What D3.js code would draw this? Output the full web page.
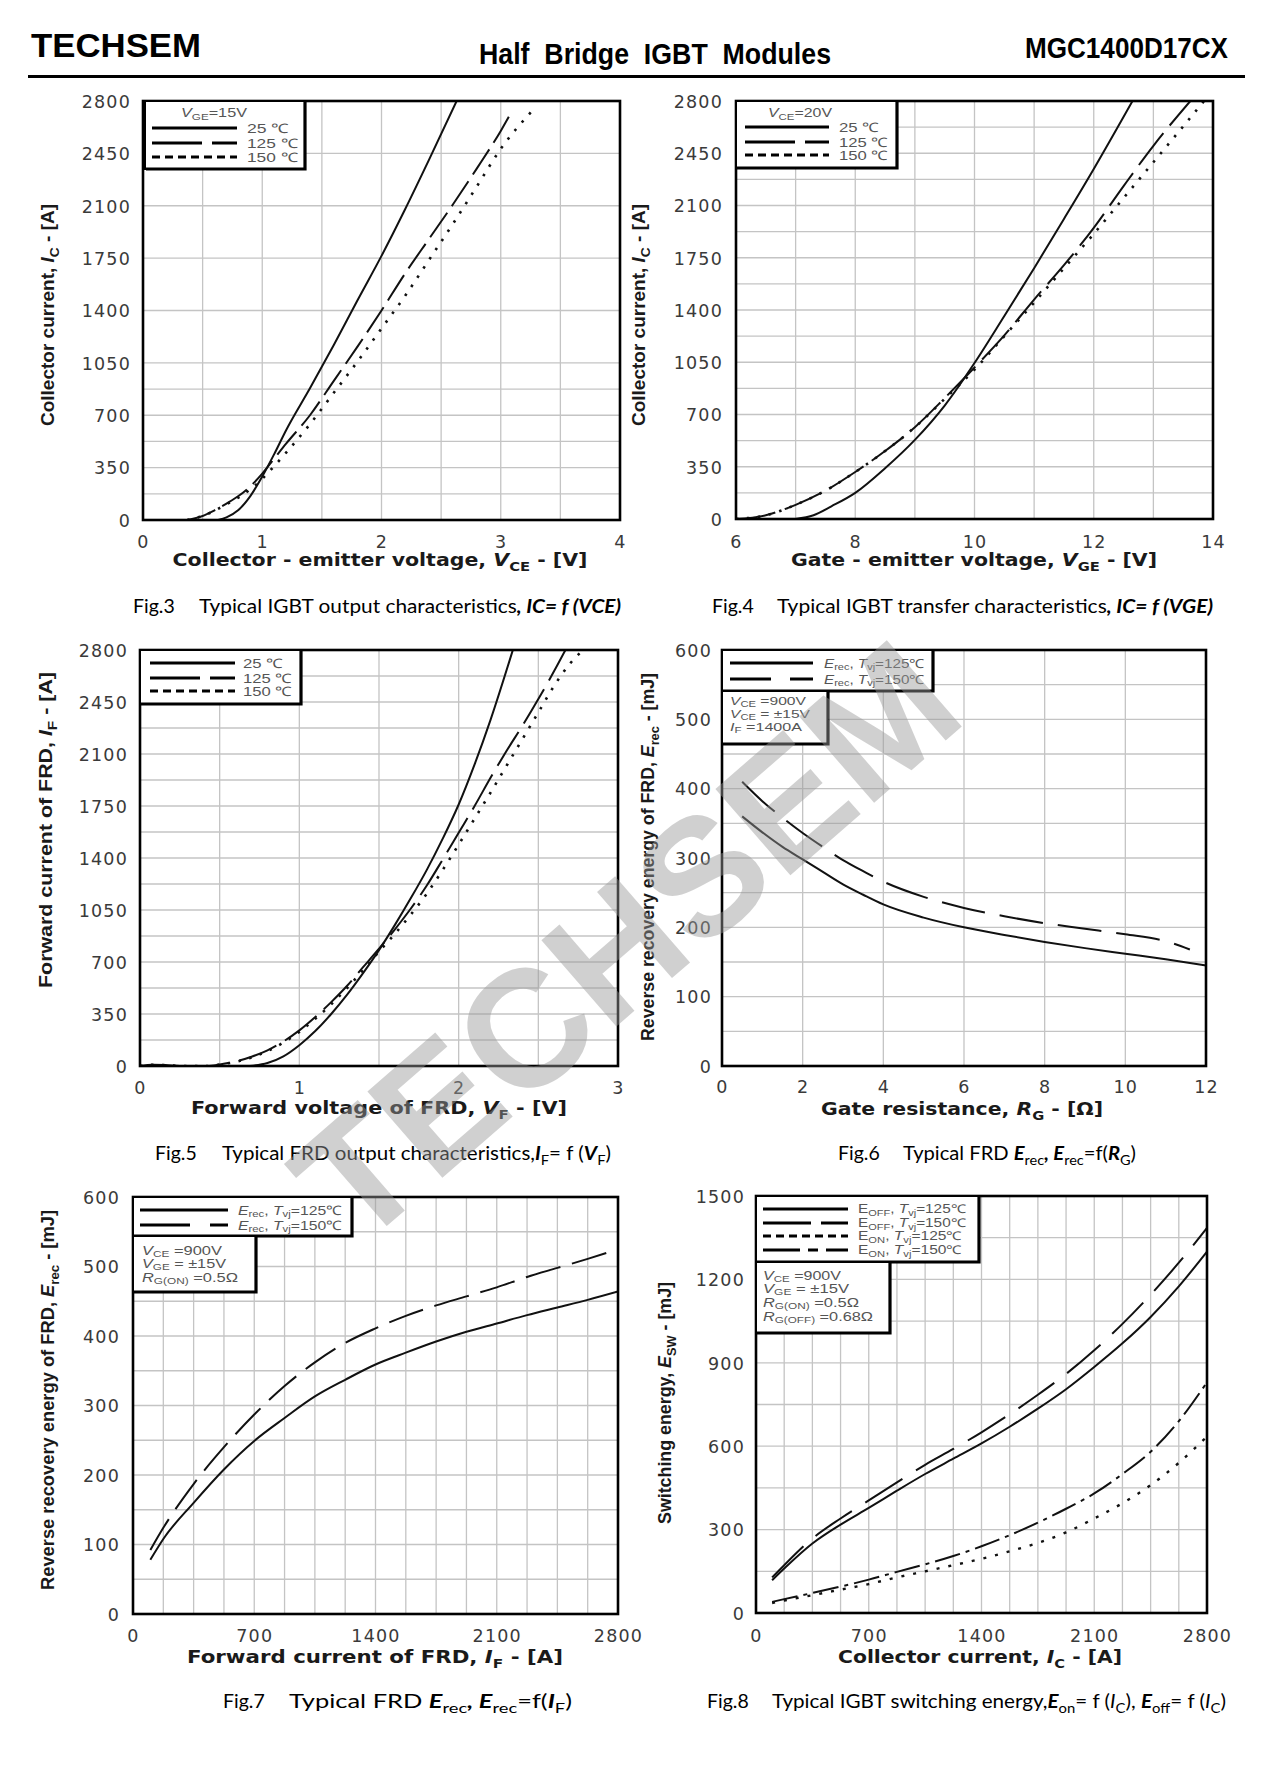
<!DOCTYPE html>
<html><head><meta charset="utf-8">
<script src="https://cdn.jsdelivr.net/npm/d3@7"></script>
<style>body{margin:0;background:#fff}svg{display:block}</style>
</head><body>
<script>
// ---------------- DATA ----------------
// Fig.3  IC = f(VCE)
const fig3_v25  = [0.63,0.7,0.8,0.9,1.0,1.1,1.2,1.4,1.6,1.8,2.0,2.2,2.4,2.63];
const fig3_i25  = [0,18,67,160,290,440,600,880,1170,1470,1765,2080,2410,2800];
const fig3_v125 = [0.37,0.5,0.6,0.7,0.8,0.9,1.0,1.1,1.2,1.4,1.6,1.8,2.0,2.2,2.4,2.6,2.8,3.0,3.1];
const fig3_i125 = [0,27,65,110,160,225,310,410,510,700,930,1160,1400,1650,1880,2110,2350,2600,2740];
const fig3_v150 = [0.37,0.5,0.6,0.7,0.8,0.9,1.0,1.1,1.2,1.4,1.6,1.8,2.0,2.2,2.4,2.6,2.8,3.0,3.27];
const fig3_i150 = [0,27,62,105,150,205,275,360,450,640,850,1060,1280,1500,1740,1980,2230,2480,2740];
const fig3_xlabels = ["0","1","2","3","4"];
const fig3_ylabels = ["0","350","700","1050","1400","1750","2100","2450","2800"];

// Fig.4  IC = f(VGE)
const fig4_v25  = [7.0,7.3,7.6,8.0,8.5,9.0,9.5,10.0,10.5,11.0,11.5,12.0,12.65];
const fig4_i25  = [0,25,85,175,340,530,760,1045,1360,1680,2010,2345,2800];
const fig4_v125 = [6.0,6.5,7.0,7.5,8.0,8.5,9.0,9.5,10.0,10.5,11.0,11.5,12.0,12.5,13.0,13.62];
const fig4_i125 = [0,25,95,190,315,455,615,810,1015,1230,1470,1700,1950,2230,2500,2800];
const fig4_v150 = [6.0,6.5,7.0,7.5,8.0,8.5,9.0,9.5,10.0,10.5,11.0,11.5,12.0,12.5,13.0,13.5,13.85];
const fig4_i150 = [0,25,95,190,315,455,615,805,1000,1225,1450,1680,1910,2150,2390,2630,2800];
const fig4_xlabels = ["6","8","10","12","14"];
const fig4_ylabels = ["0","350","700","1050","1400","1750","2100","2450","2800"];

// Fig.5  IF = f(VF)
const fig5_v25  = [0.69,0.8,0.9,1.0,1.1,1.2,1.3,1.4,1.5,1.6,1.7,1.8,1.9,2.0,2.1,2.2,2.34];
const fig5_i25  = [0,20,65,140,235,350,480,625,780,950,1130,1320,1530,1760,2030,2330,2800];
const fig5_v125 = [0,0.08,0.16,0.25,0.42,0.5,0.6,0.7,0.8,0.9,1.0,1.1,1.2,1.3,1.4,1.5,1.6,1.7,1.8,1.9,2.0,2.1,2.2,2.3,2.4,2.5,2.6,2.67];
const fig5_i125 = [0,8,6,0,0,10,30,62,105,165,240,330,430,540,665,790,920,1060,1215,1390,1570,1750,1940,2120,2290,2470,2660,2800];
const fig5_v150 = [0,0.08,0.16,0.25,0.42,0.5,0.6,0.7,0.8,0.9,1.0,1.1,1.2,1.3,1.4,1.5,1.6,1.7,1.8,1.9,2.0,2.1,2.2,2.3,2.4,2.5,2.6,2.7,2.78];
const fig5_i150 = [0,8,6,0,0,10,28,58,100,158,230,318,415,525,645,770,890,1020,1160,1320,1490,1665,1840,2020,2200,2380,2560,2710,2800];
const fig5_xlabels = ["0","1","2","3"];
const fig5_ylabels = ["0","350","700","1050","1400","1750","2100","2450","2800"];

// Fig.6  Erec = f(RG)
const fig6_rg125 = [0.5,1,1.5,2,2.5,3,3.5,4,5,6,7,8,9,10,11,12];
const fig6_e125  = [360,337,316,298,280,262,247,233,214,200,189,179,170,162,154,145];
const fig6_rg150 = [0.5,1,1.5,2,2.5,3,3.5,4,5,6,7,8,9,10,11,11.6];
const fig6_e150  = [410,382,358,336,316,297,281,266,244,228,216,206,198,190,180,168];
const fig6_xlabels = ["0","2","4","6","8","10","12"];
const fig6_ylabels = ["0","100","200","300","400","500","600"];

// Fig.7  Erec = f(IF)
const fig7_if   = [100,175,350,525,700,875,1050,1225,1400,1575,1750,1925,2100,2275,2450,2625,2800];
const fig7_e125 = [78,108,160,208,249,282,313,337,359,376,392,406,418,430,441,452,464];
const fig7_e150 = [92,124,187,240,287,328,362,390,411,429,444,457,470,485,498,511,525];
const fig7_xlabels = ["0","700","1400","2100","2800"];
const fig7_ylabels = ["0","100","200","300","400","500","600"];

// Fig.8  Esw = f(IC)
const fig8_ic      = [100,175,350,525,700,875,1050,1225,1400,1575,1750,1925,2100,2275,2450,2625,2800];
const fig8_eoff125 = [118,160,250,318,378,440,500,555,610,670,735,805,885,970,1065,1175,1300];
const fig8_eoff150 = [128,172,268,340,405,470,533,590,650,715,785,860,945,1040,1145,1260,1385];
const fig8_eon125  = [36,45,64,84,104,128,150,172,195,222,252,290,340,395,460,540,635];
const fig8_eon150  = [40,50,72,95,120,148,175,205,240,280,325,375,430,500,580,690,830];
const fig8_xlabels = ["0","700","1400","2100","2800"];
const fig8_ylabels = ["0","300","600","900","1200","1500"];

// ---------------- DRAWING ----------------
const W = 1266, H = 1765;
const svg = d3.select("body").append("svg").attr("width", W).attr("height", H);
const zip = (a, b) => a.map((v, i) => [v, b[i]]);
const range = (a, b, s) => d3.range(a, b + s / 2, s);

function addText(parent, x, y, segs, o) {
  const fs = o.size;
  const sh = fs * (o.subShift || 0.28);
  const t = parent.append("text").attr("x", x).attr("y", y)
    .attr("font-family", o.family).attr("font-size", fs)
    .attr("font-weight", o.weight || "normal").attr("fill", o.fill || "#000")
    .attr("text-anchor", o.anchor || "start");
  if (o.rotate) t.attr("transform", `rotate(${o.rotate},${x},${y})`);
  if (o.ls) t.attr("letter-spacing", o.ls);
  if (o.pre) t.style("white-space", "pre");
  let sub = false;
  segs.forEach(s => {
    const [str, f] = typeof s === "string" ? [s, ""] : [s[0], s[1] || ""];
    const ts = t.append("tspan").text(str);
    const isSub = f.includes("s");
    if (isSub && !sub) ts.attr("dy", sh);
    if (!isSub && sub) ts.attr("dy", -sh);
    if (isSub) ts.attr("font-size", fs * 0.72);
    if (f.includes("i")) ts.attr("font-style", "italic");
    if (f.includes("b")) ts.attr("font-weight", "bold");
    if (f.includes("n")) ts.attr("font-weight", "normal");
    sub = isSub;
  });
  if (o.len) t.attr("textLength", o.len).attr("lengthAdjust", "spacingAndGlyphs");
  return t;
}

const TICKFONT = "DejaVu Sans, Verdana, sans-serif";
const XTFONT = "DejaVu Sans, Verdana, sans-serif";
const YTFONT = "Liberation Sans, Arial, sans-serif";
const LEGFONT = "Liberation Sans, Arial, sans-serif";
const CAPFONT = "Lato, Open Sans, sans-serif";

let clipId = 0;
function panel(c) {
  const g = svg.append("g");
  const x = d3.scaleLinear().domain(c.xd).range([c.L, c.R]);
  const y = d3.scaleLinear().domain(c.yd).range([c.B, c.T]);
  // grid
  g.append("g").selectAll("line").data(c.xgrid).join("line")
    .attr("x1", d => x(d)).attr("x2", d => x(d)).attr("y1", c.T).attr("y2", c.B)
    .attr("stroke", "#c4c4c4").attr("stroke-width", 1.3);
  g.append("g").selectAll("line").data(c.ygrid).join("line")
    .attr("y1", d => y(d)).attr("y2", d => y(d)).attr("x1", c.L).attr("x2", c.R)
    .attr("stroke", "#c4c4c4").attr("stroke-width", 1.3);
  // curves
  const id = "clip" + (clipId++);
  g.append("clipPath").attr("id", id).append("rect")
    .attr("x", c.L).attr("y", c.T).attr("width", c.R - c.L).attr("height", c.B - c.T);
  const line = d3.line().x(d => x(d[0])).y(d => y(d[1])).curve(d3.curveMonotoneX);
  const cg = g.append("g").attr("clip-path", `url(#${id})`);
  c.series.forEach(s => {
    cg.append("path").attr("d", line(s.data)).attr("fill", "none")
      .attr("stroke", "#111").attr("stroke-width", s.w || 2)
      .attr("stroke-dasharray", s.dash || null);
  });
  // border
  g.append("rect").attr("x", c.L).attr("y", c.T).attr("width", c.R - c.L).attr("height", c.B - c.T)
    .attr("fill", "none").attr("stroke", "#000").attr("stroke-width", 2.6);
  // y axis
  const ya = g.append("g").attr("transform", `translate(${c.ylabX},0)`)
    .call(d3.axisLeft(y).tickValues(c.ylabels.map(Number)).tickSize(0).tickPadding(0)
      .tickFormat((d, i) => c.ylabels[i]));
  ya.select(".domain").remove();
  ya.selectAll("text").attr("font-family", TICKFONT).attr("font-size", 17.5)
    .attr("fill", "#3a3a3a").attr("letter-spacing", 1.2).attr("dy", "0.36em");
  // x axis
  const xa = g.append("g").attr("transform", `translate(0,${c.xlabY})`)
    .call(d3.axisBottom(x).tickValues(c.xlabels.map(Number)).tickSize(0).tickPadding(0)
      .tickFormat((d, i) => c.xlabels[i]));
  xa.select(".domain").remove();
  xa.selectAll("text").attr("font-family", TICKFONT).attr("font-size", 17.5)
    .attr("fill", "#3a3a3a").attr("letter-spacing", 1.2).attr("y", 0).attr("dy", 0);
  // axis titles
  addText(g, c.xt.x, c.xt.y, c.xt.segs, { size: 17, family: XTFONT, weight: "bold", anchor: "middle", len: c.xt.len, fill: "#1a1a1a" });
  addText(g, c.yt.x, c.yt.y, c.yt.segs, { size: 18, family: YTFONT, weight: "bold", anchor: "middle", len: c.yt.len, rotate: -90, fill: "#1a1a1a" });
  // legend
  c.legends.forEach(L => {
    g.append("rect").attr("x", L.x0).attr("y", L.y0).attr("width", L.x1 - L.x0).attr("height", L.y1 - L.y0)
      .attr("fill", "#fff").attr("stroke", "#000").attr("stroke-width", 2);
    g.append("path").attr("d", `M${L.x1},${L.y0 + 1}V${L.y1}H${L.x0 + 1}`)
      .attr("fill", "none").attr("stroke", "#000").attr("stroke-width", 3.2);
    const lo = { size: L.fs, family: LEGFONT, fill: "#555", subShift: 0.2 };
    if (L.title) addText(g, L.title.x, L.title.y, L.title.segs, Object.assign({}, lo, { anchor: "middle", len: L.title.len }));
    (L.rows || []).forEach(r => {
      g.append("line").attr("x1", L.lx0).attr("x2", L.lx1).attr("y1", r.y).attr("y2", r.y)
        .attr("stroke", "#000").attr("stroke-width", 3).attr("stroke-dasharray", r.dash || null);
      addText(g, L.tx, r.y + L.fs * 0.36, r.segs, Object.assign({}, lo, { len: r.len }));
    });
    (L.lines || []).forEach(r => {
      addText(g, L.tx, r.y, r.segs, Object.assign({}, lo, { len: r.len }));
    });
  });
  // caption
  addText(g, c.cap.x, c.cap.y, ["Fig." + c.cap.n], { size: 19.5, family: CAPFONT });
  addText(g, c.cap.x2, c.cap.y, c.cap.segs, { size: 19.5, family: CAPFONT, len: c.cap.x3 - c.cap.x2 });
}

// header
addText(svg, 31, 57, ["TECHSEM"], { size: 34, family: "Liberation Sans, Arial", weight: "bold", len: 170 });
addText(svg, 479, 64, ["Half  Bridge  IGBT  Modules"], { size: 30, family: "Liberation Sans Narrow, Liberation Sans, Arial", weight: "bold", len: 352, pre: true });
addText(svg, 1025, 58, ["MGC1400D17CX"], { size: 29, family: "Liberation Sans Narrow, Liberation Sans, Arial", weight: "bold", len: 203 });
svg.append("line").attr("x1", 28).attr("x2", 1245).attr("y1", 76.5).attr("y2", 76.5)
  .attr("stroke", "#000").attr("stroke-width", 3);

const DEG = "\u2103";

// Fig.3
panel({
  L: 143, R: 620, T: 101, B: 520, xd: [0, 4], yd: [0, 2800],
  xgrid: range(0.5, 3.5, 0.5), ygrid: [175, 350, 525, 700, 875, 1050, 1400, 1750, 2100, 2450],
  series: [
    { data: zip(fig3_v25, fig3_i25) },
    { data: zip(fig3_v125, fig3_i125), dash: "30,8" },
    { data: zip(fig3_v150, fig3_i150), dash: "2.5,8.5", w: 2.6 }
  ],
  ylabels: fig3_ylabels, ylabX: 131, xlabels: fig3_xlabels, xlabY: 548,
  xt: { x: 380, y: 566, len: 415, segs: ["Collector - emitter voltage, ", ["V", "i"], ["CE", "s"], " - [V]"] },
  yt: { x: 54, y: 315, len: 222, segs: ["Collector current, ", ["I", "i"], ["C", "s"], " - [A]"] },
  legends: [{
    x0: 145, y0: 101, x1: 305, y1: 169, fs: 13, lx0: 152, lx1: 237, tx: 247,
    title: { x: 214, y: 117, len: 66, segs: [["V", "i"], ["GE", "s"], "=15V"] },
    rows: [
      { y: 128, len: 42, segs: ["25 " + DEG] },
      { y: 143, len: 51, segs: ["125 " + DEG], dash: "50,10" },
      { y: 157, len: 51, segs: ["150 " + DEG], dash: "8,5" }
    ]
  }],
  cap: { n: 3, x: 133, x2: 199, x3: 621, y: 613, segs: ["Typical IGBT output characteristics", [", IC= f (VCE)", "bi"]] }
});

// Fig.4
panel({
  L: 736, R: 1213, T: 101, B: 519, xd: [6, 14], yd: [0, 2800],
  xgrid: range(7, 13, 1), ygrid: range(175, 2625, 175),
  series: [
    { data: zip(fig4_v25, fig4_i25) },
    { data: zip(fig4_v125, fig4_i125), dash: "40,10" },
    { data: zip(fig4_v150, fig4_i150), dash: "2.5,8.5", w: 2.6 }
  ],
  ylabels: fig4_ylabels, ylabX: 723, xlabels: fig4_xlabels, xlabY: 548,
  xt: { x: 974, y: 566, len: 366, segs: ["Gate - emitter voltage, ", ["V", "i"], ["GE", "s"], " - [V]"] },
  yt: { x: 645, y: 315, len: 222, segs: ["Collector current, ", ["I", "i"], ["C", "s"], " - [A]"] },
  legends: [{
    x0: 736, y0: 101, x1: 897, y1: 168, fs: 13, lx0: 745, lx1: 829, tx: 839,
    title: { x: 800, y: 117, len: 64, segs: [["V", "i"], ["CE", "s"], "=20V"] },
    rows: [
      { y: 127, len: 40, segs: ["25 " + DEG] },
      { y: 142, len: 49, segs: ["125 " + DEG], dash: "50,10" },
      { y: 155, len: 49, segs: ["150 " + DEG], dash: "8,5" }
    ]
  }],
  cap: { n: 4, x: 712, x2: 777, x3: 1213, y: 613, segs: ["Typical IGBT transfer characteristics", [", IC= f (VGE)", "bi"]] }
});

// Fig.5
panel({
  L: 140, R: 618, T: 650, B: 1066, xd: [0, 3], yd: [0, 2800],
  xgrid: range(0.5, 2.5, 0.5), ygrid: range(175, 2625, 175),
  series: [
    { data: zip(fig5_v25, fig5_i25) },
    { data: zip(fig5_v125, fig5_i125), dash: "40,10" },
    { data: zip(fig5_v150, fig5_i150), dash: "2.5,8.5", w: 2.6 }
  ],
  ylabels: fig5_ylabels, ylabX: 128, xlabels: fig5_xlabels, xlabY: 1094,
  xt: { x: 379, y: 1114, len: 376, segs: ["Forward voltage of FRD, ", ["V", "i"], ["F", "s"], " - [V]"] },
  yt: { x: 52, y: 830, len: 316, segs: ["Forward current of FRD, ", ["I", "i"], ["F", "s"], " - [A]"] },
  legends: [{
    x0: 140, y0: 650, x1: 301, y1: 704, fs: 13, lx0: 150, lx1: 235, tx: 243,
    rows: [
      { y: 663, len: 40, segs: ["25 " + DEG] },
      { y: 678, len: 49, segs: ["125 " + DEG], dash: "50,10" },
      { y: 691, len: 49, segs: ["150 " + DEG], dash: "8,5" }
    ]
  }],
  cap: { n: 5, x: 155, x2: 222, x3: 611, y: 1160, segs: ["Typical FRD output characteristics,", ["I", "bi"], ["F", "s"], "= f (", ["V", "bi"], ["F", "s"], ")"] }
});

// Fig.6
panel({
  L: 722, R: 1206, T: 650, B: 1066, xd: [0, 12], yd: [0, 600],
  xgrid: range(2, 10, 2), ygrid: range(50, 550, 50),
  series: [
    { data: zip(fig6_rg125, fig6_e125) },
    { data: zip(fig6_rg150, fig6_e150), dash: "44,15" }
  ],
  ylabels: fig6_ylabels, ylabX: 712, xlabels: fig6_xlabels, xlabY: 1093,
  xt: { x: 962, y: 1115, len: 282, segs: ["Gate resistance, ", ["R", "i"], ["G", "s"], " - [\u03A9]"] },
  yt: { x: 654, y: 857, len: 368, segs: ["Reverse recovery energy of FRD, ", ["E", "i"], ["rec", "s"], " - [mJ]"] },
  legends: [{
    x0: 722, y0: 650, x1: 933, y1: 691, fs: 12.5, lx0: 730, lx1: 813, tx: 824,
    rows: [
      { y: 663, len: 100, segs: [["E", "i"], ["rec", "s"], ", ", ["T", "i"], ["vj", "s"], "=125" + DEG] },
      { y: 679, len: 100, segs: [["E", "i"], ["rec", "s"], ", ", ["T", "i"], ["vj", "s"], "=150" + DEG], dash: "41,19" }
    ]
  }, {
    x0: 722, y0: 691, x1: 828, y1: 744, fs: 11.5, tx: 730,
    lines: [
      { y: 705, len: 76, segs: [["V", "i"], ["CE", "s"], " =900V"] },
      { y: 718, len: 80, segs: [["V", "i"], ["CE", "s"], " = \u00B115V"] },
      { y: 731, len: 72, segs: [["I", "i"], ["F", "s"], " =1400A"] }
    ]
  }],
  cap: { n: 6, x: 838, x2: 903, x3: 1136, y: 1160, segs: ["Typical FRD ", ["E", "bi"], ["rec", "s"], [", E", "bi"], ["rec", "s"], "=f(", ["R", "bi"], ["G", "s"], ")"] }
});

// Fig.7
panel({
  L: 133, R: 618, T: 1197, B: 1614, xd: [0, 2800], yd: [0, 600],
  xgrid: range(175, 2625, 175), ygrid: range(50, 550, 50),
  series: [
    { data: zip(fig7_if, fig7_e125) },
    { data: zip(fig7_if, fig7_e150), dash: "36,12" }
  ],
  ylabels: fig7_ylabels, ylabX: 120, xlabels: fig7_xlabels, xlabY: 1642,
  xt: { x: 375, y: 1663, len: 376, segs: ["Forward current of FRD, ", ["I", "i"], ["F", "s"], " - [A]"] },
  yt: { x: 54, y: 1400, len: 380, segs: ["Reverse recovery energy of FRD, ", ["E", "i"], ["rec", "s"], " - [mJ]"] },
  legends: [{
    x0: 133, y0: 1197, x1: 352, y1: 1236, fs: 13, lx0: 140, lx1: 228, tx: 238,
    rows: [
      { y: 1210, len: 104, segs: [["E", "i"], ["rec", "s"], ", ", ["T", "i"], ["vj", "s"], "=125" + DEG] },
      { y: 1225, len: 104, segs: [["E", "i"], ["rec", "s"], ", ", ["T", "i"], ["vj", "s"], "=150" + DEG], dash: "50,20" }
    ]
  }, {
    x0: 133, y0: 1236, x1: 256, y1: 1292, fs: 12, tx: 142,
    lines: [
      { y: 1255, len: 80, segs: [["V", "i"], ["CE", "s"], " =900V"] },
      { y: 1268, len: 84, segs: [["V", "i"], ["GE", "s"], " = \u00B115V"] },
      { y: 1282, len: 96, segs: [["R", "i"], ["G(ON)", "s"], " =0.5\u03A9"] }
    ]
  }],
  cap: { n: 7, x: 223, x2: 289, x3: 572, y: 1708, segs: ["Typical FRD ", ["E", "bi"], ["rec", "s"], [", E", "bi"], ["rec", "s"], "=f(", ["I", "bi"], ["F", "s"], ")"] }
});

// Fig.8
panel({
  L: 756, R: 1207, T: 1196, B: 1613, xd: [0, 2800], yd: [0, 1500],
  xgrid: range(175, 2625, 175), ygrid: range(150, 1350, 150),
  series: [
    { data: zip(fig8_ic, fig8_eoff125) },
    { data: zip(fig8_ic, fig8_eoff150), dash: "44,16" },
    { data: zip(fig8_ic, fig8_eon125), dash: "3,9", w: 2.4 },
    { data: zip(fig8_ic, fig8_eon150), dash: "26,6,4,6" }
  ],
  ylabels: fig8_ylabels, ylabX: 745, xlabels: fig8_xlabels, xlabY: 1642,
  xt: { x: 980, y: 1663, len: 284, segs: ["Collector current, ", ["I", "i"], ["C", "s"], " - [A]"] },
  yt: { x: 671, y: 1403, len: 242, segs: ["Switching energy, ", ["E", "i"], ["SW", "s"], " - [mJ]"] },
  legends: [{
    x0: 756, y0: 1196, x1: 979, y1: 1262, fs: 12, lx0: 763, lx1: 848, tx: 858,
    rows: [
      { y: 1209, len: 108, segs: ["E", ["OFF", "s"], ", ", ["T", "i"], ["vj", "s"], "=125" + DEG] },
      { y: 1223, len: 108, segs: ["E", ["OFF", "s"], ", ", ["T", "i"], ["vj", "s"], "=150" + DEG], dash: "48,10" },
      { y: 1236, len: 104, segs: ["E", ["ON", "s"], ", ", ["T", "i"], ["vj", "s"], "=125" + DEG], dash: "8,5" },
      { y: 1250, len: 104, segs: ["E", ["ON", "s"], ", ", ["T", "i"], ["vj", "s"], "=150" + DEG], dash: "37,8,10,8" }
    ]
  }, {
    x0: 756, y0: 1262, x1: 890, y1: 1333, fs: 12, tx: 763,
    lines: [
      { y: 1280, len: 78, segs: [["V", "i"], ["CE", "s"], " =900V"] },
      { y: 1293, len: 86, segs: [["V", "i"], ["GE", "s"], " = \u00B115V"] },
      { y: 1307, len: 96, segs: [["R", "i"], ["G(ON)", "s"], " =0.5\u03A9"] },
      { y: 1321, len: 110, segs: [["R", "i"], ["G(OFF)", "s"], " =0.68\u03A9"] }
    ]
  }],
  cap: { n: 8, x: 707, x2: 772, x3: 1226, y: 1708, segs: ["Typical IGBT switching energy,", ["E", "bi"], ["on", "s"], "= f (", ["I", "i"], ["C", "s"], "), ", ["E", "bi"], ["off", "s"], "= f (", ["I", "i"], ["C", "s"], ")"] }
});

// watermark
svg.append("text").attr("transform", "translate(626,942) rotate(-41)")
  .attr("text-anchor", "middle").attr("dominant-baseline", "central")
  .attr("font-family", "Liberation Sans, Arial").attr("font-weight", "bold")
  .attr("font-size", 166).attr("fill", "#999").attr("opacity", 0.45)
  .text("TECHSEM");
</script>
</body></html>
